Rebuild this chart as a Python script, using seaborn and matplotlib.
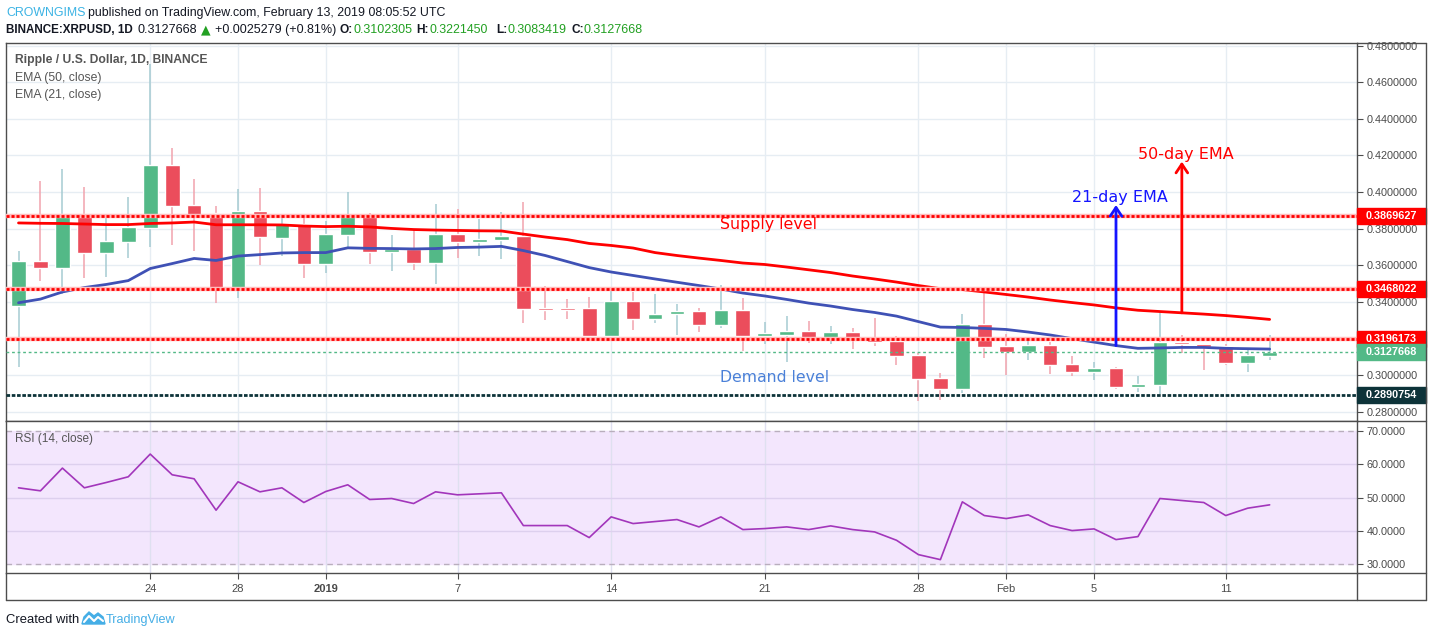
import numpy as np
import pandas as pd
import matplotlib
matplotlib.use('Agg')
import matplotlib.pyplot as plt
import matplotlib.dates as mdates
import matplotlib.transforms as mtransforms
from matplotlib.patches import Rectangle, Polygon
from matplotlib.lines import Line2D
from matplotlib.ticker import FormatStrFormatter
import seaborn as sns

# daily candles XRP/USD, Dec 18 2018 - Feb 13 2019
dates = pd.date_range('2018-12-18', '2019-02-13', freq='D')
opens = [0.3379, 0.3623, 0.3586, 0.3880, 0.3668, 0.3727, 0.3805, 0.4148, 0.3929, 0.3885,
         0.3475, 0.3896, 0.3750, 0.3825, 0.3608, 0.3767, 0.3874, 0.3674, 0.3689, 0.3614,
         0.3770, 0.3728, 0.3739, 0.3760, 0.3362, 0.3362, 0.3366, 0.3215, 0.3404, 0.3306,
         0.3333, 0.3350, 0.3273, 0.3355, 0.3213, 0.3219, 0.3240, 0.3202, 0.3235, 0.3202,
         0.3186, 0.3109, 0.2984, 0.2923, 0.3279, 0.3158, 0.3127, 0.3164, 0.3062, 0.3018,
         0.3040, 0.2936, 0.2947, 0.3182, 0.3171, 0.3160, 0.3067, 0.3102]
highs = [0.3678, 0.4060, 0.4126, 0.4027, 0.3865, 0.3973, 0.4700, 0.4240, 0.4071, 0.3923,
         0.4016, 0.4022, 0.3874, 0.3874, 0.3842, 0.4000, 0.3885, 0.3765, 0.3792, 0.3934,
         0.3907, 0.3852, 0.3891, 0.3945, 0.3486, 0.3415, 0.3426, 0.3481, 0.3454, 0.3443,
         0.3388, 0.3366, 0.3492, 0.3421, 0.3290, 0.3322, 0.3295, 0.3268, 0.3257, 0.3311,
         0.3213, 0.3120, 0.3011, 0.3333, 0.3454, 0.3224, 0.3204, 0.3180, 0.3104, 0.3073,
         0.3045, 0.2995, 0.3351, 0.3217, 0.3171, 0.3171, 0.3144, 0.3221]
lows = [0.3042, 0.3515, 0.3441, 0.3532, 0.3537, 0.3641, 0.3701, 0.3712, 0.3679, 0.3395,
        0.3422, 0.3601, 0.3652, 0.3532, 0.3559, 0.3698, 0.3608, 0.3570, 0.3574, 0.3499,
        0.3641, 0.3652, 0.3636, 0.3286, 0.3302, 0.3308, 0.3209, 0.3209, 0.3248, 0.3286,
        0.3219, 0.3235, 0.3257, 0.3131, 0.3169, 0.3071, 0.3175, 0.3169, 0.3142, 0.3158,
        0.3055, 0.2860, 0.2863, 0.2902, 0.3095, 0.3002, 0.3084, 0.3007, 0.2996, 0.2974,
        0.2925, 0.2909, 0.2898, 0.3122, 0.3029, 0.3056, 0.3018, 0.3083]
closes = [0.3623, 0.3586, 0.3880, 0.3668, 0.3732, 0.3809, 0.4148, 0.3925, 0.3874, 0.3475,
          0.3896, 0.3756, 0.3825, 0.3608, 0.3770, 0.3874, 0.3674, 0.3687, 0.3614, 0.3770,
          0.3728, 0.3743, 0.3760, 0.3362, 0.3360, 0.3360, 0.3215, 0.3404, 0.3308, 0.3333,
          0.3350, 0.3273, 0.3355, 0.3213, 0.3230, 0.3240, 0.3202, 0.3235, 0.3191, 0.3180,
          0.3104, 0.2978, 0.2923, 0.3279, 0.3155, 0.3127, 0.3164, 0.3056, 0.3018, 0.3040,
          0.2936, 0.2952, 0.3182, 0.3171, 0.3155, 0.3067, 0.3109, 0.3128]
ema50 = [0.3831, 0.3829, 0.3828, 0.3825, 0.3822, 0.3822, 0.3828, 0.3831, 0.3836, 0.3821,
         0.3821, 0.3821, 0.3820, 0.3814, 0.3811, 0.3813, 0.3809, 0.3801, 0.3795, 0.3792,
         0.3790, 0.3788, 0.3787, 0.3770, 0.3754, 0.3740, 0.3719, 0.3708, 0.3694, 0.3669,
         0.3653, 0.3639, 0.3626, 0.3612, 0.3604, 0.3590, 0.3575, 0.3560, 0.3541, 0.3525,
         0.3508, 0.3489, 0.3472, 0.3467, 0.3454, 0.3440, 0.3426, 0.3410, 0.3396, 0.3383,
         0.3367, 0.3354, 0.3347, 0.3340, 0.3333, 0.3325, 0.3315, 0.3304]
ema21 = [0.3395, 0.3415, 0.3454, 0.3478, 0.3495, 0.3516, 0.3582, 0.3609, 0.3637, 0.3626,
         0.3650, 0.3658, 0.3667, 0.3669, 0.3669, 0.3695, 0.3692, 0.3691, 0.3689, 0.3691,
         0.3697, 0.3699, 0.3703, 0.3680, 0.3653, 0.3620, 0.3587, 0.3563, 0.3544, 0.3525,
         0.3507, 0.3489, 0.3470, 0.3448, 0.3432, 0.3413, 0.3393, 0.3377, 0.3358, 0.3342,
         0.3322, 0.3292, 0.3262, 0.3260, 0.3255, 0.3249, 0.3235, 0.3219, 0.3199, 0.3180,
         0.3161, 0.3146, 0.3148, 0.3151, 0.3151, 0.3146, 0.3144, 0.3142]
rsi = [52.9, 52.0, 58.8, 52.9, 54.5, 56.2, 63.0, 56.8, 55.6, 46.2,
       54.7, 51.7, 52.9, 48.5, 51.8, 53.8, 49.4, 49.7, 48.2, 51.7,
       50.8, 51.1, 51.4, 41.6, 41.6, 41.6, 38.0, 44.2, 42.2, 42.8,
       43.4, 41.2, 44.2, 40.4, 40.7, 41.2, 40.4, 41.5, 40.4, 39.7,
       37.2, 32.9, 31.4, 48.7, 44.6, 43.7, 44.8, 41.6, 40.1, 40.6,
       37.4, 38.3, 49.7, 49.1, 48.5, 44.6, 46.8, 47.8]

supply_levels = [0.3869627, 0.3468022, 0.3196173]
demand_level = 0.2890754
last_price = 0.3127668

price_ticks = [0.28, 0.30, 0.32, 0.34, 0.36, 0.38, 0.40, 0.42, 0.44, 0.46, 0.48]
rsi_ticks = [30, 40, 50, 60, 70]
tick_dates = ['2018-12-24', '2018-12-28', '2019-01-01', '2019-01-07', '2019-01-14',
              '2019-01-21', '2019-01-28', '2019-02-01', '2019-02-05', '2019-02-11']
tick_labels = ['24', '28', '2019', '7', '14', '21', '28', 'Feb', '5', '11']

df = pd.DataFrame({'date': dates, 'open': opens, 'high': highs, 'low': lows,
                   'close': closes, 'ema50': ema50, 'ema21': ema21, 'rsi': rsi})
df['x'] = mdates.date2num(df['date'])

sns.set_style('white')
plt.rcParams['font.family'] = ['Liberation Sans', 'DejaVu Sans']

W, H = 1433, 637
fig = plt.figure(figsize=(W / 100, H / 100), dpi=100)
renderer = fig.canvas.get_renderer()


def fx(px):
    return px / W


def fy(py):
    return 1 - py / H


ax = fig.add_axes([fx(6), fy(421), fx(1357) - fx(6), fy(43) - fy(421)])
ax2 = fig.add_axes([fx(6), fy(573), fx(1357) - fx(6), fy(421) - fy(573)], sharex=ax)

x0 = df['x'].iloc[0]
ax.set_xlim(x0 - 0.57, x0 + 60.98)
ax.set_ylim(0.2749, 0.4814)
ax2.set_ylim(27.4, 72.9)

border = '#4d4d4d'
for a in (ax, ax2):
    for s in a.spines.values():
        s.set_color(border)
        s.set_linewidth(1)

tx = mdates.date2num(pd.to_datetime(tick_dates))

# grid
for t in tx:
    ax.axvline(t, color='#e6edf3', lw=1, zorder=0)
    ax2.axvline(t, color='#dfe0f0', lw=1, zorder=1)
for v in price_ticks:
    ax.axhline(v, color='#e6edf3', lw=1, zorder=0)

# candles
o = df['open'].values
c = df['close'].values
up = c >= o
small = np.abs(c - o) < 0.0008
body_h = np.where(small, 0.0008, np.abs(c - o))
body_b = np.where(small, (o + c) / 2 - 0.0004, np.minimum(o, c))
xs = df['x'].values
ax.vlines(xs[up], df['low'][up], df['high'][up], color='#a6cbd2', lw=1.1, zorder=2)
ax.vlines(xs[~up], df['low'][~up], df['high'][~up], color='#f1a3ad', lw=1.1, zorder=2)
ax.bar(xs[up], body_h[up], bottom=body_b[up], width=0.67, color='#53b987', zorder=3)
ax.bar(xs[~up], body_h[~up], bottom=body_b[~up], width=0.67, color='#eb4d5c', zorder=3)

# EMAs
sns.lineplot(x='x', y='ema50', data=df, ax=ax, color='#ff0000', lw=2, zorder=4)
sns.lineplot(x='x', y='ema21', data=df, ax=ax, color='#3f51b5', lw=2, zorder=4)

# horizontal levels
for lv in supply_levels:
    ax.axhline(lv, color='#ffbcbc', lw=3.2, zorder=4)
    ax.axhline(lv, color='#ff0000', lw=2, ls=(0, (1.1, 0.7)), zorder=5)
ax.axhline(demand_level, color='#0d3339', lw=2, ls=(0, (1.3, 0.6)), zorder=5)
ax.axhline(last_price, color='#53b987', lw=1, ls=(0, (2, 2)), zorder=5)

# right price scale
ax.yaxis.tick_right()
ax.set_yticks(price_ticks)
ax.yaxis.set_major_formatter(FormatStrFormatter('%.7f'))
ax.tick_params(axis='y', right=True, left=False, length=4, color=border, labelsize=7.8,
               labelcolor='#4a4a4a', pad=3)
ax.tick_params(axis='x', bottom=False, labelbottom=False)
ax.set_xlabel('')
ax.set_ylabel('')

blend = mtransforms.blended_transform_factory(ax.transAxes, ax.transData)
box_w = 69 / 1351
box_h = 16 / 1830
for lv, col in [(supply_levels[0], '#ff0000'), (supply_levels[1], '#ff0000'),
                (supply_levels[2], '#ff0000'), (last_price, '#53b987'), (demand_level, '#0d3339')]:
    ax.add_patch(Rectangle((1.0, lv - box_h / 2), box_w, box_h, transform=blend,
                           color=col, clip_on=False, zorder=10))
    ax.text(1.0 + 9 / 1351, lv, f'{lv:.7f}', transform=blend, va='center', ha='left',
            color='white', fontsize=7.8, fontweight='bold', zorder=11, clip_on=False)

# annotations
ax.text(x0 + 31.96, 0.3825, 'Supply level', color='#ff0000', fontsize=11.4,
        family='DejaVu Sans', va='center', ha='left', zorder=6)
ax.text(x0 + 31.96, 0.2985, 'Demand level', color='#4a80d8', fontsize=11.3,
        family='DejaVu Sans', va='center', ha='left', zorder=6)
ax.text(x0 + 48.0, 0.3970, '21-day EMA', color='#1414ff', fontsize=11.5,
        family='DejaVu Sans', va='center', ha='left', zorder=6)
ax.text(x0 + 51.0, 0.4207, '50-day EMA', color='#ff0000', fontsize=11.5,
        family='DejaVu Sans', va='center', ha='left', zorder=6)
ax.annotate('', xy=(df['x'][50], 0.3929), xytext=(df['x'][50], df['ema21'][50]),
            arrowprops=dict(arrowstyle='->,head_length=0.45,head_width=0.3', color='#1414ff',
                            lw=2, mutation_scale=14, shrinkA=0, shrinkB=0), zorder=6)
ax.annotate('', xy=(df['x'][53], 0.4166), xytext=(df['x'][53], df['ema50'][53]),
            arrowprops=dict(arrowstyle='->,head_length=0.45,head_width=0.3', color='#ff0000',
                            lw=2, mutation_scale=14, shrinkA=0, shrinkB=0), zorder=6)

# RSI panel
ax2.axhspan(30, 70, color='#f3e6fd', zorder=0)
for v in [40, 50, 60]:
    ax2.axhline(v, color='#ddd0ee', lw=1, zorder=1)
for v in [30, 70]:
    ax2.axhline(v, color='#b9aebd', lw=1, ls=(0, (4, 3)), zorder=2)
sns.lineplot(x='x', y='rsi', data=df, ax=ax2, color='#a236bb', lw=1.2, zorder=3)
ax2.yaxis.tick_right()
ax2.set_yticks(rsi_ticks)
ax2.yaxis.set_major_formatter(FormatStrFormatter('%.4f'))
ax2.tick_params(axis='y', right=True, left=False, length=4, color=border, labelsize=7.8,
                labelcolor='#4a4a4a', pad=3)
ax2.set_xticks(tx)
ax2.set_xticklabels(tick_labels)
ax2.tick_params(axis='x', bottom=True, length=4, color=border, labelsize=8,
                labelcolor='#4a4a4a', pad=4)
for lab in ax2.get_xticklabels():
    if lab.get_text() == '2019':
        lab.set_fontweight('bold')
ax2.set_xlabel('')
ax2.set_ylabel('')


# frame pieces outside axes
def seg(xa, ya, xb, yb):
    fig.add_artist(Line2D([fx(xa), fx(xb)], [fy(ya), fy(yb)], transform=fig.transFigure,
                          color=border, lw=1))


seg(6, 573, 6, 600)
seg(6, 600, 1426, 600)
seg(1357, 573, 1357, 600)
seg(1426, 43, 1426, 600)
seg(1357, 43, 1426, 43)
seg(1357, 421, 1426, 421)
seg(1357, 573, 1426, 573)


# texts fitted to their pixel widths
def put(text, xa, xb, yc, size=10, fit=True, **kw):
    t = fig.text(fx(xa), fy(yc), text, va='center', ha='left', fontsize=size, **kw)
    if fit:
        w = t.get_window_extent(renderer).width
        t.set_fontsize(size * (xb - xa) / w)
    return t


narrow = ['Liberation Sans Narrow', 'Liberation Sans', 'DejaVu Sans']
dark = '#131722'
green = '#22a022'
ref = put('published on TradingView.com, February 13, 2019 08:05:52 UTC', 88, 446, 13,
          family=narrow, color=dark)
s1 = ref.get_fontsize()
put('CROWNGIMS', 6, 83, 13, size=s1, fit=False, family=narrow, color='#3bb3e4')

ref2 = put('+0.0025279 (+0.81%)', 215, 336, 30, family=narrow, color=dark)
s2 = ref2.get_fontsize()
put('BINANCE:XRPUSD, 1D', 6, 133, 30, family=narrow, fontweight='bold', color=dark)
put('0.3127668', 138, 198, 30, family=narrow, color=dark)
put('\u25b2', 201, 212, 30, size=s2, fit=False, family='DejaVu Sans', color=green)
for lab, xl, xv, val in [('O:', 340, 353, '0.3102305'), ('H:', 416, 429, '0.3221450'),
                         ('L:', 496, 507, '0.3083419'), ('C:', 571, 583, '0.3127668')]:
    put(lab, xl, xv, 30, size=s2 * 0.95, fit=False, family=narrow, fontweight='bold', color=dark)
    put(val, xv, xv + 59, 30, family=narrow, color=green)

put('Ripple / U.S. Dollar, 1D, BINANCE', 15, 207, 60, family=narrow, fontweight='bold',
    color='#555555')
put('EMA (50, close)', 15, 102, 78, family=narrow, color='#555555')
put('EMA (21, close)', 15, 102, 95, family=narrow, color='#555555')
put('RSI (14, close)', 15, 93, 439, family=narrow, color='#555555')

put('Created with', 6, 79, 620, family=narrow, color=dark)
put('TradingView', 106, 176, 620, family=narrow, color='#45aee6')
logo = [(82, 624), (84, 617), (89, 612), (94, 616), (98, 613), (103, 617), (105, 624)]
fig.add_artist(Polygon([(fx(a), fy(b)) for a, b in logo], closed=True, transform=fig.transFigure,
                       color='#45aee6'))
fig.add_artist(Line2D([fx(84), fx(89), fx(94), fx(98), fx(103)],
                      [fy(622), fy(616), fy(621), fy(617), fy(621)], transform=fig.transFigure,
                      color='white', lw=1.5))

fig.savefig('out.png', dpi=100)
